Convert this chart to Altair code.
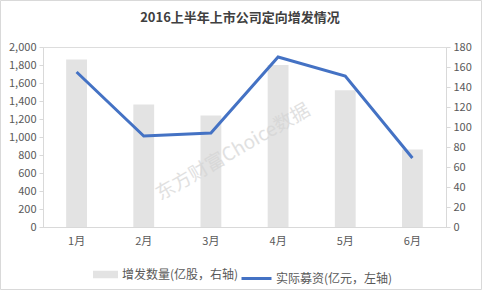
import altair as alt
import pandas as pd

months = ["1月", "2月", "3月", "4月", "5月", "6月"]
shares = [1860, 1360, 1240, 1800, 1520, 860]
funds = [155, 91, 94, 170, 151, 69]
bar_name = "增发数量(亿股，右轴)"
line_name = "实际募资(亿元，左轴)"
title_text = ["2016上半年上市公司定向增发情况"]
watermark = ["东方财富Choice数据"]

FONT = "Noto Sans CJK SC"
TXT = "#595959"
AX = "#d9d9d9"

df = pd.DataFrame({"month": months, "shares": shares, "funds": funds,
                   "bar": bar_name, "line": line_name})

x = alt.X("month:N", sort=months, title=None,
          scale=alt.Scale(paddingInner=0.69, paddingOuter=0.345),
          axis=alt.Axis(labelAngle=0, ticks=False, domainColor=AX, labelColor=TXT,
                        labelFontSize=11, labelPadding=8, labelFont=FONT))

bars = alt.Chart(df).mark_bar(color="#e3e3e3").encode(
    x=x,
    y=alt.Y("shares:Q", title=None, scale=alt.Scale(domain=[0, 2000]),
            axis=alt.Axis(orient="left", values=list(range(0, 2001, 200)),
                          labelExpr="replace(format(datum.value, 'd'), /(\\d)(\\d{3})$/, '$1,$2')",
                          grid=False, domainColor=AX, tickColor=AX, tickSize=4,
                          labelColor=TXT, labelFontSize=11, labelFont=FONT, labelPadding=3)),
    color=alt.Color("bar:N", scale=alt.Scale(range=["#e3e3e3"]),
                    legend=alt.Legend(orient="none", legendX=50, legendY=215, title=None,
                                      symbolType="M-1,-0.3H1V0.3H-1Z", symbolSize=625,
                                      symbolStrokeWidth=0, labelFontSize=12, labelColor=TXT,
                                      labelFont=FONT, padding=0, labelOffset=4)),
)

line = alt.Chart(df).mark_line(color="#4472c4", strokeWidth=3).encode(
    x=x,
    y=alt.Y("funds:Q", title=None, scale=alt.Scale(domain=[0, 180]),
            axis=alt.Axis(orient="right", values=list(range(0, 181, 20)),
                          grid=False, domainColor=AX, tickColor=AX, tickSize=4,
                          labelColor=TXT, labelFontSize=11, labelFont=FONT, labelPadding=3)),
    stroke=alt.Stroke("line:N", scale=alt.Scale(range=["#4472c4"]),
                      legend=alt.Legend(orient="none", legendX=197, legendY=215, title=None,
                                        symbolType="stroke", symbolSize=900,
                                        symbolStrokeWidth=3, labelFontSize=12, labelColor=TXT,
                                        labelFont=FONT, padding=0, labelOffset=3)),
)

wm = alt.Chart(pd.DataFrame({"t": watermark})).mark_text(
    font=FONT, fontSize=19, color="#d4d4d4", opacity=0.7, angle=330
).encode(text="t:N", x=alt.value(190), y=alt.value(105))

ttl = alt.Chart(pd.DataFrame({"t": title_text})).mark_text(
    font=FONT, fontSize=13, fontWeight="bold", color="#404040", baseline="middle"
).encode(text="t:N", x=alt.value(197), y=alt.value(-29))

border = alt.Chart(pd.DataFrame({"t": [0]})).mark_rect(
    fill=None, stroke=AX, strokeWidth=1
).encode(x=alt.value(-42.5), x2=alt.value(438.5), y=alt.value(-46.5), y2=alt.value(242.5))

chart = alt.layer(bars, line, wm, ttl, border).resolve_scale(
    y="independent", color="independent", stroke="independent"
).properties(
    width=403, height=180,
    autosize=alt.AutoSizeParams(type="none"),
    padding={"left": 43, "top": 47, "right": 36, "bottom": 63},
).configure_view(stroke=None).configure(background="white")

chart.save("out.html", embed_options={"renderer": "svg", "actions": False})
